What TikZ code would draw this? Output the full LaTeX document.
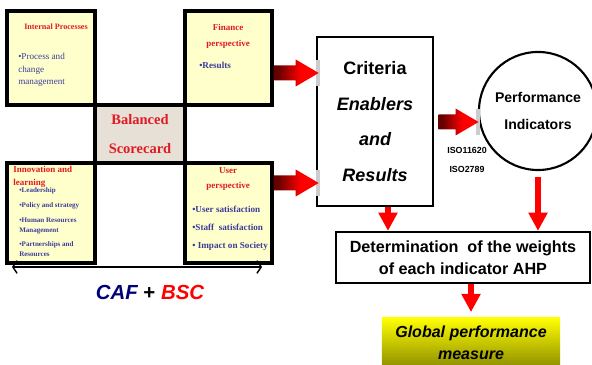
\documentclass[tikz,border=0pt]{standalone}
\usepackage{fontspec}
\setmainfont{Liberation Serif}
\setsansfont{Liberation Sans}
\usetikzlibrary{arrows.meta,calc}

\definecolor{boxyellow}{RGB}{255,255,204}
\definecolor{titlered}{RGB}{225,25,35}
\definecolor{itemblue}{RGB}{60,60,155}
\definecolor{cardgray}{RGB}{230,224,214}
\definecolor{arrdark}{RGB}{105,0,0}
\definecolor{arrred}{RGB}{255,0,0}
\definecolor{cafblue}{RGB}{0,0,120}
\definecolor{olivebot}{RGB}{140,140,0}
\pgfdeclarehorizontalshading{arrshade}{100bp}{color(0bp)=(arrdark); color(30bp)=(arrdark); color(55bp)=(arrred); color(100bp)=(arrred)}

\tikzset{
  bscbox/.style={draw, line width=2.4pt, fill=boxyellow, inner sep=0pt},
  ttl/.style={font=\bfseries\fontsize{6.4}{11.3}\selectfont, text=titlered, align=center, inner sep=0pt},
  item/.style={font=\bfseries\fontsize{6.5}{12.8}\selectfont, text=itemblue, align=left, inner sep=0pt},
  redarr/.style={draw=red, line width=4pt, -{Triangle[length=13pt,width=13pt]}},
  bigarrow/.pic={
    \fill[gray!40] ({#1-3},-13) rectangle ({#1+1},13);
    \shade[shading=arrshade] (0,-7.5) -- ({#1-23},-7.5) -- ({#1-23},-13.5) -- (#1,0)
      -- ({#1-23},13.5) -- ({#1-23},7.5) -- (0,7.5) -- cycle;
  }
}

\begin{document}
\begin{tikzpicture}[x=0.025cm, y=-0.025cm]
\useasboundingbox (0,0) rectangle (592,365);

\node [bscbox,
    minimum width=2.2cm,
    minimum height=2.35cm] (ip) at (51,58){};

\node [bscbox,
    minimum width=2.175cm,
    minimum height=2.35cm] (fin) at (228.5,58){};

\node [bscbox,
    minimum width=2.2cm,
    minimum height=2.5cm] (inn) at (51,213){};

\node [bscbox,
    minimum width=2.175cm,
    minimum height=2.5cm] (usr) at (228.5,213){};

\node [draw,
    line width=2.4pt,
    fill=cardgray,
    minimum width=2.25cm,
    minimum height=1.45cm,
    align=center,
    text=titlered,
    font=\bfseries\fontsize{10.3}{20.5}\selectfont] (bal) at (140,134){Balanced\\Scorecard};

\node [ttl, font=\bfseries\fontsize{5.8}{9}\selectfont] (iptitle) at (56,27){Internal Processes};
\node [item,
    anchor=west,
    font=\fontsize{6.5}{8.9}\selectfont] (ipitems) at (18,70){•Process and\\change\\management};

\node [ttl] (fintitle) at (228,36){Finance\\perspective};
\node [item, anchor=west] (finitems) at (199,65){•Results};

\node [ttl,
    align=left,
    anchor=west,
    font=\bfseries\fontsize{6.4}{9.2}\selectfont] (inntitle) at (13,177){Innovation and\\learning};
\node [item,
    anchor=west,
    font=\bfseries\fontsize{5}{7.1}\selectfont] (innitems) at (19,222.5){•Leadership\\[3.2pt]•Policy and strategy\\[3.6pt]•Human Resources\\Management\\[3.2pt]•Partnerships and\\Resources};

\node [ttl] (usrtitle) at (228,179){User\\perspective};
\node [item, anchor=west] (usritems) at (192,228){•User satisfaction\\•Staff\ \ satisfaction\\• Impact on Society};

\coordinate (dl) at (12,267);
\coordinate (dr) at (262,267);
\draw [line width=1pt, {Straight Barb[length=3pt,width=9pt]}-{Straight Barb[length=3pt,width=9pt]}] (dl) -- (dr);

\node [font=\sffamily\bfseries\fontsize{14.5}{17}\selectfont] (cafbsc) at (150,292){\textcolor{cafblue}{\itshape CAF} + \textcolor{red}{\itshape BSC}};

\node [draw,
    line width=0.8pt,
    fill=white,
    minimum width=2.9cm,
    minimum height=4.225cm,
    align=center,
    font=\sffamily\bfseries\fontsize{12.8}{25.5}\selectfont] (crit) at (375,121.5){Criteria\\\itshape Enablers\\\itshape and\\\itshape Results};

\node [draw,
    circle,
    line width=1.5pt,
    minimum size=2.95cm,
    align=center,
    font=\sffamily\bfseries\fontsize{10}{19.8}\selectfont] (perf) at (538,111){Performance\\Indicators};

\node [align=center,
    font=\sffamily\bfseries\fontsize{6.3}{13.5}\selectfont] (iso) at (467,159.5){ISO11620\\ISO2789};

\node [draw,
    line width=1.6pt,
    minimum width=6.35cm,
    minimum height=1.275cm,
    align=center,
    font=\sffamily\bfseries\fontsize{11.5}{15.6}\selectfont] (det) at (463,257.5){Determination\ \ of the weights\\of each indicator AHP};

\node [top color=yellow,
    bottom color=olivebot,
    minimum width=4.45cm,
    minimum height=1.25cm,
    align=center,
    font=\sffamily\bfseries\itshape\fontsize{11.4}{15.6}\selectfont] (gpm) at (471,343){Global performance\\measure};

\pic at ($(fin.east)+(0,15)$) {bigarrow=45};
\pic at ($(usr.east)+(0,-30)$) {bigarrow=45};
\pic at ($(crit.east)+(5,0.5)$) {bigarrow=40};

\coordinate (critout) at ($(crit.south)+(13,0)$);
\draw [redarr] (critout) -- (critout |- det.north);
\draw [redarr] ([yshift=-4]perf.south) -- (perf.south |- det.north);
\draw [redarr, shorten >=4] (det.south -| gpm.north) -- (gpm.north);

\end{tikzpicture}
\end{document}
